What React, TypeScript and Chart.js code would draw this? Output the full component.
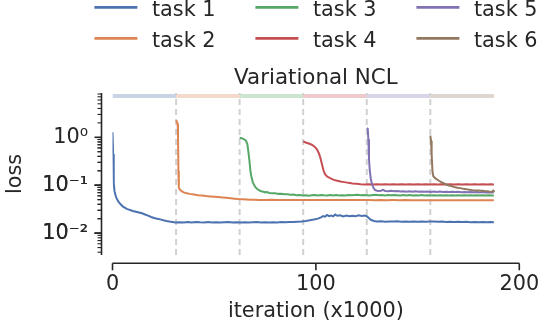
import { useEffect, useRef } from 'react';
import { Chart, registerables } from 'chart.js';

Chart.register(...registerables);

const FONT = '"DejaVu Sans", sans-serif';
const INK = '#262626';
const FS = 20.8;
const TITLE_FS = 21.4;

const taskLabels = ['task 1', 'task 2', 'task 3', 'task 4', 'task 5', 'task 6'];
const taskColors = ['#4C72B0', '#DD8452', '#55A868', '#C44E52', '#8172B3', '#937860'];
const bandColors = [
  'rgba(76,114,176,0.3)',
  'rgba(221,132,82,0.3)',
  'rgba(85,168,104,0.3)',
  'rgba(196,78,82,0.3)',
  'rgba(129,114,179,0.3)',
  'rgba(147,120,96,0.3)',
];
const taskEdges = [0, 31.25, 62.5, 93.75, 125, 156.25, 187.5];
const xTicks = [0, 100, 200];
const yMajorTicks = [0.01, 0.1, 1];
const yTickLabels = ['10⁻²', '10⁻¹', '10⁰'];
const yLimits = [0.0035, 8.4];
const xLimits = [0, 200];
const bandLevel = 7.3;

type P = [number, number];

const task1: P[] = [
  [0, 1.27], [0.3, 0.45], [0.6, 0.11], [1, 0.075], [1.5, 0.062], [2, 0.053], [3, 0.045], [4, 0.04],
  [5, 0.036], [6, 0.034], [7, 0.032], [8, 0.031], [9, 0.03], [10, 0.029], [11.5, 0.028], [13, 0.027],
  [14.5, 0.026], [16, 0.0245], [17.5, 0.0232], [19, 0.0217], [20.5, 0.0207], [22, 0.02], [23.5, 0.0194],
  [25, 0.0186], [26.5, 0.018], [28, 0.0175], [29.5, 0.0171], [31, 0.0167], [33, 0.0169], [35, 0.0166],
  [37, 0.017], [39, 0.0167], [41, 0.0171], [43, 0.0168], [45, 0.0166], [47, 0.017], [49, 0.0167],
  [51, 0.0169], [53, 0.0166], [55, 0.0168], [57, 0.017], [59, 0.0166], [61, 0.0168], [63, 0.0167],
  [65, 0.0169], [67, 0.0166], [69, 0.0168], [71, 0.017], [73, 0.0167], [75, 0.0169], [77, 0.0166],
  [79, 0.0169], [81, 0.0167], [83, 0.017], [85, 0.0168], [87, 0.0171], [89, 0.017], [91, 0.0173],
  [93, 0.0176], [95, 0.018], [97, 0.0185], [99, 0.0192], [101, 0.0201], [102.5, 0.0214], [103.5, 0.0227],
  [104.5, 0.022], [105.5, 0.024], [106.5, 0.0227], [107.5, 0.0234], [108.5, 0.0224], [109.5, 0.0244],
  [110.5, 0.023], [112, 0.0236], [113.5, 0.0224], [115, 0.0232], [116.5, 0.0226], [118, 0.0231],
  [119.5, 0.0225], [121, 0.0235], [122.5, 0.0228], [124, 0.0233], [125, 0.0226], [126, 0.0207],
  [127, 0.019], [128.5, 0.018], [130, 0.0175], [132, 0.0178], [134, 0.0173], [136, 0.0176], [138, 0.0174],
  [140, 0.0177], [142, 0.0173], [144, 0.0175], [146, 0.0172], [148, 0.0176], [150, 0.0173], [152, 0.0175],
  [154, 0.0172], [156, 0.0174], [158, 0.0176], [160, 0.0172], [162, 0.0174], [164, 0.0171], [166, 0.0173],
  [168, 0.017], [170, 0.0172], [172, 0.017], [174, 0.0173], [176, 0.0169], [178, 0.0171], [180, 0.0168],
  [182, 0.017], [184, 0.0168], [186, 0.017], [187.5, 0.0169],
];

const task2: P[] = [
  [31.25, 2.25], [31.6, 2.1], [32, 1.95], [32.2, 1.2], [32.4, 0.2], [32.6, 0.09], [33, 0.082], [34, 0.075],
  [35, 0.071], [36.5, 0.068], [38, 0.066], [40, 0.064], [42, 0.062], [44, 0.061], [46, 0.0595], [48, 0.0585],
  [50, 0.0575], [52, 0.0565], [54, 0.0555], [56, 0.0545], [58, 0.0535], [60, 0.0525], [62, 0.0515],
  [64, 0.0508], [66, 0.0502], [68, 0.0498], [70, 0.0496], [72, 0.0494], [75, 0.0493], [78, 0.0495],
  [81, 0.0492], [84, 0.0494], [87, 0.0492], [90, 0.0494], [93, 0.0491], [96, 0.0493], [99, 0.0491],
  [102, 0.0493], [105, 0.049], [108, 0.0492], [111, 0.049], [114, 0.0492], [117, 0.0489], [120, 0.0491],
  [123, 0.0489], [126, 0.049], [129, 0.0488], [132, 0.049], [135, 0.0488], [138, 0.0489], [141, 0.0487],
  [144, 0.0489], [147, 0.0487], [150, 0.0488], [153, 0.0486], [156, 0.0488], [159, 0.0486], [162, 0.0487],
  [165, 0.0485], [168, 0.0487], [171, 0.0485], [174, 0.0486], [177, 0.0484], [180, 0.0486], [183, 0.0484],
  [187.5, 0.0484],
];

const task3: P[] = [
  [62.5, 0.98], [63.5, 0.96], [64.5, 0.92], [65.5, 0.86], [66.3, 0.72], [66.8, 0.5], [67.3, 0.33],
  [67.8, 0.2], [68.3, 0.15], [69, 0.115], [70, 0.094], [71, 0.084], [72, 0.079], [73, 0.075], [74, 0.074],
  [75, 0.071], [76, 0.072], [77, 0.069], [78.5, 0.068], [80, 0.068], [81.5, 0.066], [83, 0.0665],
  [84.5, 0.065], [86, 0.0645], [87.5, 0.0635], [89, 0.064], [90.5, 0.062], [92, 0.0625], [93.5, 0.061],
  [95, 0.0618], [96.5, 0.0605], [98, 0.0615], [99.5, 0.0625], [101, 0.061], [102.5, 0.0628], [104, 0.0615],
  [105.5, 0.0608], [107, 0.0625], [108.5, 0.0612], [110, 0.0622], [111.5, 0.061], [113, 0.062],
  [114.5, 0.0612], [116, 0.0625], [117.5, 0.0615], [119, 0.0622], [120.5, 0.063], [122, 0.0618],
  [123.5, 0.0628], [125, 0.062], [126.5, 0.0612], [128, 0.0625], [129.5, 0.063], [131, 0.0618],
  [132.5, 0.0625], [134, 0.0612], [135.5, 0.0622], [137, 0.0615], [138.5, 0.0625], [140, 0.0618],
  [141.5, 0.061], [143, 0.0622], [144.5, 0.0614], [146, 0.0624], [147.5, 0.0612], [149, 0.062],
  [150.5, 0.061], [152, 0.0622], [153.5, 0.0613], [155, 0.0619], [156.5, 0.061], [158, 0.0621],
  [159.5, 0.0612], [161, 0.0618], [162.5, 0.061], [164, 0.0619], [165.5, 0.0611], [167, 0.0617],
  [168.5, 0.0609], [170, 0.0618], [171.5, 0.061], [173, 0.0616], [174.5, 0.0608], [176, 0.0617],
  [177.5, 0.061], [179, 0.0615], [180.5, 0.0608], [182, 0.0616], [183.5, 0.0609], [185, 0.0614],
  [186.5, 0.0608], [187.5, 0.0612],
];

const task4: P[] = [
  [93.75, 0.82], [95, 0.78], [96.5, 0.74], [98, 0.7], [99.5, 0.63], [100.5, 0.56], [101.5, 0.46],
  [102.3, 0.36], [103, 0.27], [103.8, 0.2], [104.5, 0.17], [105.5, 0.152], [107, 0.14], [108.5, 0.131],
  [110, 0.125], [112, 0.12], [114, 0.116], [116, 0.112], [118, 0.109], [120, 0.107], [122, 0.105],
  [124, 0.104], [126, 0.105], [128, 0.103], [130, 0.1045], [132, 0.103], [134, 0.105], [136, 0.1035],
  [138, 0.1048], [140, 0.103], [142, 0.1042], [144, 0.1032], [146, 0.105], [148, 0.1035], [150, 0.1045],
  [152, 0.103], [154, 0.1048], [156, 0.1035], [158, 0.1042], [160, 0.103], [162, 0.1045], [164, 0.1033],
  [166, 0.105], [168, 0.1035], [170, 0.1045], [172, 0.103], [174, 0.1048], [176, 0.1035], [178, 0.1045],
  [180, 0.1032], [182, 0.1046], [184, 0.1035], [186, 0.1047], [187.5, 0.104],
];

const task5: P[] = [
  [125, 1.55], [125.5, 1.5], [125.8, 0.9], [126.1, 0.35], [126.5, 0.2], [127, 0.135], [127.6, 0.105],
  [128.3, 0.088], [129, 0.08], [130, 0.077], [131, 0.076], [132, 0.077], [133, 0.08], [134, 0.076],
  [135.5, 0.075], [137, 0.0765], [138.5, 0.0745], [140, 0.0755], [141.5, 0.074], [143, 0.075],
  [144.5, 0.0735], [146, 0.0748], [147.5, 0.0732], [149, 0.0745], [150.5, 0.073], [152, 0.0742],
  [153.5, 0.0728], [155, 0.074], [156.5, 0.0725], [158, 0.0738], [159.5, 0.0722], [161, 0.0735],
  [162.5, 0.0722], [164, 0.0733], [165.5, 0.072], [167, 0.073], [168.5, 0.0718], [170, 0.0728],
  [171.5, 0.0715], [173, 0.0726], [174.5, 0.0713], [176, 0.0722], [177.5, 0.071], [179, 0.072],
  [180.5, 0.0708], [182, 0.0718], [183.5, 0.0705], [185, 0.0712], [186.5, 0.0702], [187.5, 0.071],
];

const task6: P[] = [
  [156.25, 1.08], [156.6, 0.85], [156.9, 0.45], [157.3, 0.2], [157.7, 0.155], [158.5, 0.142],
  [159.5, 0.132], [160.5, 0.124], [162, 0.114], [163.5, 0.106], [165, 0.1], [166.5, 0.096], [168, 0.092],
  [169.5, 0.089], [171, 0.087], [172.5, 0.084], [174, 0.082], [175.5, 0.0805], [177, 0.079], [178.5, 0.078],
  [180, 0.0775], [181.5, 0.0765], [183, 0.0755], [184.5, 0.0748], [185.5, 0.0735], [186.5, 0.0725],
  [187.2, 0.0775], [187.5, 0.0765],
];

const taskSeries = [task1, task2, task3, task4, task5, task6];

const yAllTicks: { value: number; major: boolean }[] = [];
for (const m of yMajorTicks.map((v) => v / 10).concat(yMajorTicks)) {
  for (let k = 1; k <= 9; k++) {
    const v = +(m * k).toPrecision(3);
    if (v >= yLimits[0] && v <= yLimits[1]) yAllTicks.push({ value: v, major: yMajorTicks.includes(v) });
  }
}

const decor = {
  id: 'decor',
  afterDraw(chart: any) {
    const { ctx, chartArea, scales } = chart;
    const xs = scales.x;
    const ys = scales.y;
    const spineX = chartArea.left - 11;
    const spineY = chartArea.bottom + 8.3;
    ctx.save();
    ctx.strokeStyle = INK;
    ctx.lineCap = 'butt';
    ctx.lineWidth = 1.6;
    ctx.beginPath();
    ctx.moveTo(spineX, ys.getPixelForValue(yLimits[1]));
    ctx.lineTo(spineX, ys.getPixelForValue(yLimits[0]));
    ctx.stroke();
    for (const t of yAllTicks) {
      const py = ys.getPixelForValue(t.value);
      ctx.lineWidth = t.major ? 1.6 : 1.1;
      ctx.beginPath();
      ctx.moveTo(spineX, py);
      ctx.lineTo(spineX - (t.major ? 7 : 4), py);
      ctx.stroke();
    }
    ctx.lineWidth = 1.6;
    ctx.beginPath();
    ctx.moveTo(xs.getPixelForValue(xLimits[0]), spineY);
    ctx.lineTo(xs.getPixelForValue(xLimits[1]), spineY);
    ctx.stroke();
    for (const v of xTicks) {
      const px = xs.getPixelForValue(v);
      ctx.beginPath();
      ctx.moveTo(px, spineY);
      ctx.lineTo(px, spineY + 7);
      ctx.stroke();
    }
    const cx = (chartArea.left + chartArea.right) / 2;
    ctx.fillStyle = INK;
    ctx.font = `${TITLE_FS}px ${FONT}`;
    ctx.textAlign = 'center';
    ctx.textBaseline = 'alphabetic';
    ctx.fillText('Variational NCL', cx, 84);
    ctx.font = `${FS}px ${FONT}`;
    ctx.textAlign = 'left';
    taskLabels.forEach((label, i) => {
      const col = Math.floor(i / 2);
      const row = i % 2;
      const lx = cx - 221.5 + col * 161;
      const ly = 7.3 + row * 31;
      ctx.strokeStyle = taskColors[i];
      ctx.lineWidth = 2.8;
      ctx.beginPath();
      ctx.moveTo(lx, ly);
      ctx.lineTo(lx + 43, ly);
      ctx.stroke();
      ctx.fillStyle = INK;
      ctx.fillText(label, lx + 57.5, ly + 8.5);
    });
    ctx.restore();
  },
};

export default function App() {
  const ref = useRef<HTMLCanvasElement>(null);
  useEffect(() => {
    if (!ref.current) return;
    const datasets: any[] = [];
    taskSeries.forEach((s, i) => {
      datasets.push({
        label: taskLabels[i],
        data: s.map(([x, y]) => ({ x, y })),
        borderColor: taskColors[i],
        borderWidth: 2,
        pointRadius: 0,
        tension: 0,
        order: 10 - i,
      });
    });
    for (let i = 0; i < 6; i++) {
      datasets.push({
        label: 'band',
        data: [
          { x: taskEdges[i], y: bandLevel },
          { x: taskEdges[i + 1], y: bandLevel },
        ],
        borderColor: bandColors[i],
        borderWidth: 4,
        pointRadius: 0,
        order: 30,
      });
    }
    for (let i = 1; i < 6; i++) {
      datasets.push({
        label: 'boundary',
        data: [
          { x: taskEdges[i], y: yLimits[0] },
          { x: taskEdges[i], y: yLimits[1] },
        ],
        borderColor: '#d0d0d0',
        borderWidth: 2,
        borderDash: [6, 4],
        pointRadius: 0,
        order: 20,
      });
    }
    const chart = new Chart(ref.current, {
      type: 'line',
      data: { datasets },
      plugins: [decor],
      options: {
        animation: false,
        responsive: false,
        devicePixelRatio: 1,
        layout: { padding: { top: 93, right: 21.7, left: 0, bottom: 0 } },
        plugins: { legend: { display: false }, title: { display: false }, tooltip: { enabled: false } },
        scales: {
          x: {
            type: 'linear',
            min: xLimits[0],
            max: xLimits[1],
            afterFit: (s: any) => {
              s.height = 75;
              s.paddingLeft = 0;
              s.paddingRight = 0;
            },
            afterBuildTicks: (s: any) => { s.ticks = xTicks.map((v) => ({ value: v })); },
            grid: { display: false, drawTicks: false },
            border: { display: false },
            ticks: {
              autoSkip: false,
              maxRotation: 0,
              padding: 17.3,
              color: INK,
              font: { family: FONT, size: FS },
              callback: (v: any) => String(v),
            },
            title: {
              display: true,
              text: 'iteration (x1000)',
              color: INK,
              font: { family: FONT, size: FS },
              padding: { top: 0, bottom: 5.5 },
            },
          },
          y: {
            type: 'logarithmic',
            min: yLimits[0],
            max: yLimits[1],
            afterFit: (s: any) => {
              s.width = 112.5;
              s.paddingTop = 0;
              s.paddingBottom = 0;
            },
            afterBuildTicks: (s: any) => { s.ticks = yAllTicks.map((t) => ({ value: t.value, major: t.major })); },
            grid: { display: false, drawTicks: false },
            border: { display: false },
            ticks: {
              autoSkip: false,
              padding: 24.5,
              color: INK,
              font: { family: FONT, size: FS },
              callback: (v: any) => {
                const idx = yMajorTicks.indexOf(+v);
                return idx >= 0 ? yTickLabels[idx] : '';
              },
            },
            title: {
              display: true,
              text: 'loss',
              color: INK,
              font: { family: FONT, size: FS },
              padding: { top: 3.3, bottom: 0 },
            },
          },
        },
      } as any,
    });
    return () => chart.destroy();
  }, []);
  return (
    <div style={{ position: 'fixed', left: 0, top: 0, width: 541, height: 330, background: '#fff' }}>
      <canvas ref={ref} width={541} height={330} style={{ width: 541, height: 330, display: 'block' }} />
    </div>
  );
}
